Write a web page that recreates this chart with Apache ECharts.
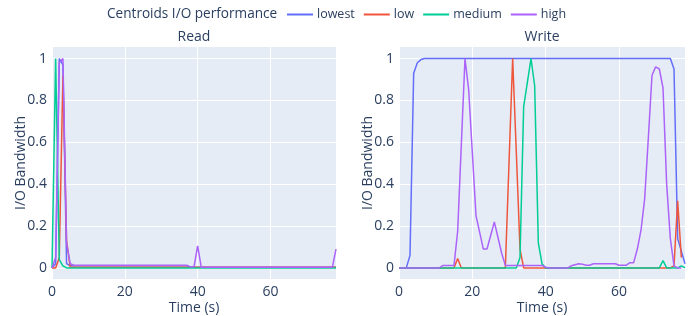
<!DOCTYPE html>
<html>
<head>
<meta charset="utf-8">
<script src="https://cdn.jsdelivr.net/npm/echarts@6/dist/echarts.min.js"></script>
<style>
  html, body { margin: 0; padding: 0; background: #fff; }
  #chart { width: 691px; height: 316px; }
</style>
</head>
<body>
<div id="chart"></div>
<script>
// time axis, one sample per second
var time = [];
for (var i = 0; i <= 78; i++) time.push(i);

function fill(n, v) { var a = []; for (var i = 0; i < n; i++) a.push(v); return a; }

// Read panel
var readLowest = [0, 0.02, 1.0, 0.97, 0.02].concat(fill(33, 0.01), fill(41, 0.003));
var readLow = [0, 0, 0.05, 0.92, 0.13].concat(fill(74, 0.003));
var readMedium = [0, 1.0, 0.04, 0.01].concat(fill(75, 0));
var readHigh = [0, 0.05, 0.98, 1.0, 0.12, 0.02].concat(fill(32, 0.013), [0.005, 0.005, 0.105], fill(37, 0.003), [0.09]);

// Write panel
var writeLowest = [0, 0, 0, 0.06, 0.93, 0.98, 0.995].concat(fill(68, 1), [0.95, 0.14, 0.08, 0.02]);
var writeLow = fill(16, 0).concat([0.045], fill(13, 0), [0.5, 1.0, 0.55, 0.09], fill(41, 0), [0.01, 0.32, 0.05]);
var writeMedium = fill(33, 0).concat([0.05, 0.77, 0.885, 1.0, 0.87, 0.12, 0.02], fill(32, 0), [0.035], fill(4, 0), [0.01, 0]);
var writeHigh = fill(12, 0).concat(fill(4, 0.012),
  [0.175, 0.59, 1.0, 0.85, 0.55, 0.25, 0.17, 0.09, 0.09, 0.155, 0.22, 0.145, 0.07],
  fill(11, 0.012), [0.003], fill(6, 0),
  [0.01, 0.015, 0.02, 0.018, 0.013, 0.013, 0.02, 0.02, 0.02, 0.02, 0.02, 0.02, 0.02, 0.013, 0.013, 0.013, 0.025, 0.025,
   0.09, 0.18, 0.33, 0.62, 0.92, 0.96, 0.95, 0.86, 0.4, 0.14, 0.01, 0, 0]);

var seriesNames = ['lowest', 'low', 'medium', 'high'];
var colors = ['#636efa', '#EF553B', '#00cc96', '#ab63fa'];
var xTicks = [0, 20, 40, 60];
var yTicks = [0, 0.2, 0.4, 0.6, 0.8, 1];

var font = '"Open Sans", sans-serif';
var textColor = '#2a3f5f';

function pairs(ys) {
  return time.map(function (t, i) { return [t, ys[i]]; });
}

function xAxis(idx) {
  return {
    type: 'value', gridIndex: idx, min: 0, max: 78,
    name: 'Time (s)', nameLocation: 'middle', nameGap: 22, nameMoveOverlap: false,
    nameTextStyle: { color: textColor, fontSize: 14, fontFamily: font },
    axisLine: { show: false },
    axisTick: { show: false, customValues: xTicks },
    axisLabel: { customValues: xTicks, color: textColor, fontSize: 14, fontFamily: font, margin: 6 },
    splitLine: { show: true, lineStyle: { color: '#fff', width: 1 } }
  };
}

function yAxis(idx) {
  return {
    type: 'value', gridIndex: idx, min: -0.053, max: 1.055,
    name: 'I/O Bandwidth', nameLocation: 'middle', nameGap: 24, nameMoveOverlap: false,
    nameTextStyle: { color: textColor, fontSize: 14, fontFamily: font },
    axisLine: { show: false },
    axisTick: { show: false, customValues: yTicks },
    axisLabel: { customValues: yTicks, color: textColor, fontSize: 14, fontFamily: font, margin: 5 },
    splitLine: { show: true, lineStyle: { color: '#fff', width: 1 } }
  };
}

function line(name, color, data, idx) {
  return {
    name: name, type: 'line', xAxisIndex: idx, yAxisIndex: idx,
    data: pairs(data), showSymbol: false, symbol: 'none',
    lineStyle: { color: color, width: 1.5 }, itemStyle: { color: color },
    clip: true
  };
}

var chart = echarts.init(document.getElementById('chart'));
var readData = [readLowest, readLow, readMedium, readHigh];
var writeData = [writeLowest, writeLow, writeMedium, writeHigh];
var series = [];
seriesNames.forEach(function (n, i) { series.push(line(n, colors[i], readData[i], 0)); });
seriesNames.forEach(function (n, i) { series.push(line(n, colors[i], writeData[i], 1)); });

chart.setOption({
  animation: false,
  color: colors,
  title: [
    { text: 'Centroids I/O performance', left: 107, top: 7, padding: 0, textStyle: { color: textColor, fontSize: 13.6, fontWeight: 'normal', fontFamily: font } },
    { text: 'Read', left: 194, top: 30, padding: 0, textAlign: 'center', textStyle: { color: textColor, fontSize: 14, fontWeight: 'normal', fontFamily: font } },
    { text: 'Write', left: 542, top: 30, padding: 0, textAlign: 'center', textStyle: { color: textColor, fontSize: 14, fontWeight: 'normal', fontFamily: font } }
  ],
  legend: {
    data: seriesNames, left: 287, top: 8, padding: 0, icon: 'rect', itemWidth: 26, itemHeight: 2, itemGap: 9,
    textStyle: { color: textColor, fontSize: 12.5, fontFamily: font, padding: [0, 0, 0, -1] }
  },
  grid: [
    { left: 52, right: 355, top: 47, bottom: 37, outerBoundsMode: 'none', containLabel: false, show: true, backgroundColor: '#E5ECF6', borderWidth: 0 },
    { left: 399, right: 6, top: 47, bottom: 37, outerBoundsMode: 'none', containLabel: false, show: true, backgroundColor: '#E5ECF6', borderWidth: 0 }
  ],
  xAxis: [xAxis(0), xAxis(1)],
  yAxis: [yAxis(0), yAxis(1)],
  series: series
});
</script>
</body>
</html>
